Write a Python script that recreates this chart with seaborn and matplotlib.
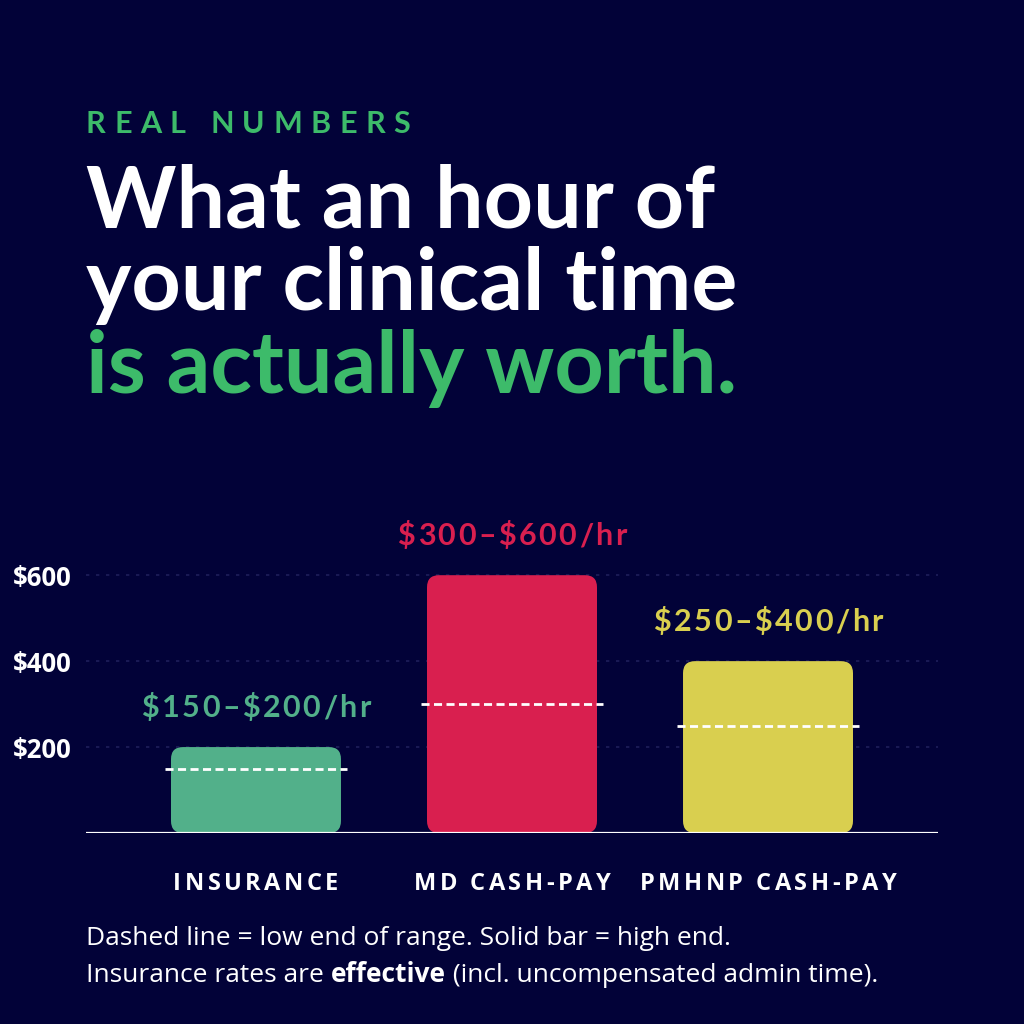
import matplotlib
matplotlib.use("Agg")
import matplotlib.pyplot as plt
import seaborn as sns
import pandas as pd
from matplotlib.patches import FancyBboxPatch

# ---- data ----
categories = ["INSURANCE", "MD CASH-PAY", "PMHNP CASH-PAY"]
low_rate = [150, 300, 250]
high_rate = [200, 600, 400]
bar_colors = ["#52b08a", "#d91f4f", "#d9cf4f"]
ytick_values = [200, 400, 600]
ytick_labels = ["$200", "$400", "$600"]

BG = "#020238"
GREEN = "#3dbb6a"
W = 1024

sns.set_theme(style="dark")
plt.rcParams["font.family"] = ["Lato", "DejaVu Sans"]

fig = plt.figure(figsize=(10.24, 10.24), dpi=100, facecolor=BG)
ax = fig.add_axes([86 / W, 1 - 833 / W, (938 - 86) / W, (833 - 500) / W])
ax.set_facecolor(BG)

df = pd.DataFrame({"cat": categories, "high": high_rate, "low": low_rate})
sns.barplot(data=df, x="cat", y="high", hue="cat", palette=bar_colors,
            width=0.664, legend=False, ax=ax, saturation=1)

ax.set_xlim(-0.664, 2.664)
ax.set_ylim(0, 775)
fig.canvas.draw()

bbox = ax.get_window_extent()
xpx = bbox.width / (2.664 + 0.664)
ypx = bbox.height / 775.0
r_px = 12
rs = r_px / xpx
aspect = xpx / ypx

patches = list(ax.patches)
for p, col in zip(patches, bar_colors):
    x0, y0 = p.get_x(), p.get_y()
    w, h = p.get_width(), p.get_height()
    p.remove()
    fb = FancyBboxPatch((x0, y0), w, h,
                        boxstyle=f"round,pad=0,rounding_size={rs}",
                        mutation_aspect=aspect, facecolor=col,
                        edgecolor="none", zorder=2)
    ax.add_patch(fb)

# grid
for v in ytick_values:
    ax.axhline(v, color="#1e1e5a", lw=1.2, ls=(0, (2, 4)), zorder=0.5)
ax.axhline(0, color="white", lw=1.6, zorder=3)

for i, lo in enumerate(low_rate):
    ax.hlines(lo, i - 0.355, i + 0.355, colors="white", lw=2,
              linestyles=(0, (2.9, 1.6)), zorder=4)

ax.set_yticks(ytick_values)
ax.set_yticklabels([s.replace("$", "\\$") for s in ytick_labels])
ax.tick_params(axis="y", length=0, pad=10, labelsize=18.5, labelcolor="white")
for t in ax.get_yticklabels():
    t.set_fontweight("bold")
    t.set_family(["Open Sans", "DejaVu Sans"])
ax.set_xticks([])
ax.set_xlabel("")
ax.set_ylabel("")
ax.grid(False)
for s in ax.spines.values():
    s.set_visible(False)

renderer = fig.canvas.get_renderer()
H = fig.bbox.height


def spaced(x_px, y_px, text, spacing, ha="left", **kw):
    widths = []
    for ch in text:
        t = fig.text(0, 0, ch.replace("$", "\\$"), **kw)
        widths.append(t.get_window_extent(renderer).width if ch != " " else None)
        t.remove()
    sp = fig.text(0, 0, "n n", **kw)
    wsp = sp.get_window_extent(renderer).width
    sp.remove()
    nn = fig.text(0, 0, "nn", **kw)
    wsp -= nn.get_window_extent(renderer).width
    nn.remove()
    widths = [w if w is not None else wsp for w in widths]
    total = sum(widths) + spacing * (len(text) - 1)
    x = x_px - total / 2 if ha == "center" else x_px
    for ch, w in zip(text, widths):
        if ch != " ":
            fig.text(x / W, 1 - y_px / W, ch.replace("$", "\\$"),
                     va="baseline", ha="left", **kw)
        x += w + spacing


# value labels above bars (positions from data transform)
for i, (lo, hi, col) in enumerate(zip(low_rate, high_rate, bar_colors)):
    px, py = ax.transData.transform((i, hi))
    spaced(px, H - py - 30, f"${lo}\u2013${hi}/hr", 2.5, ha="center",
           color=col, fontsize=22, fontweight="bold",
           family=["Lato", "DejaVu Sans"])

# eyebrow
spaced(86, 133, "REAL NUMBERS", 8.5, color=GREEN, fontsize=22,
       fontweight="bold", family=["Lato", "DejaVu Sans"])

# title
title_kw = dict(fontsize=62, fontweight="bold", family=["Lato", "DejaVu Sans"],
                va="baseline", ha="left")
fig.text(86 / W, 1 - 228 / W, "What an hour of", color="white", **title_kw)
fig.text(86 / W, 1 - 310 / W, "your clinical time", color="white", **title_kw)
fig.text(86 / W, 1 - 393 / W, "is actually worth.", color=GREEN, **title_kw)

# category labels
for i, c in enumerate(categories):
    xc = bbox.x0 + (i + 0.664) * xpx
    spaced(xc, 890, c, 3.5, ha="center", color="white", fontsize=17,
           fontweight="bold", family=["Open Sans", "DejaVu Sans"])

# footnote
fn_kw = dict(fontsize=19, color="white", family=["Open Sans", "DejaVu Sans"],
             va="baseline", ha="left")
fig.text(86 / W, 1 - 945 / W, "Dashed line = low end of range. Solid bar = high end.", **fn_kw)
x = 86
for part, wt in [("Insurance rates are ", "normal"), ("effective", "bold"),
                 (" (incl. uncompensated admin time).", "normal")]:
    t = fig.text(x / W, 1 - 982 / W, part, fontweight=wt, **fn_kw)
    x += t.get_window_extent(renderer).width

fig.savefig("out.png", dpi=100, facecolor=BG)
